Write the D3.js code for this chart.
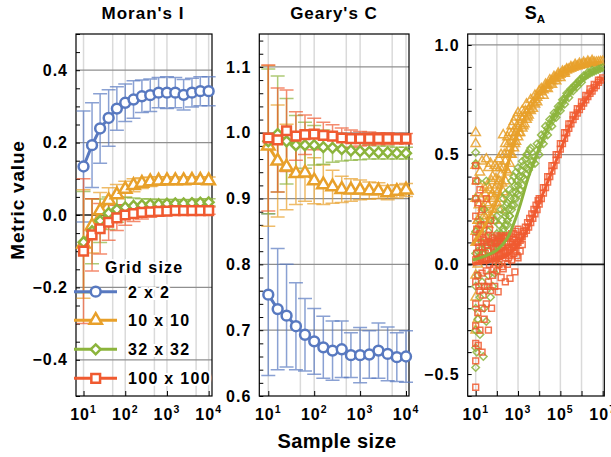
<!DOCTYPE html>
<meta charset="utf-8">
<script src="https://d3js.org/d3.v7.min.js"></script>
<style>
  body { margin: 0; background: #fff; }
  text { font-family: "Liberation Sans", Arial, sans-serif; font-weight: bold; }
</style>
<div id="chart"></div>
<script>
// ---- data -------------------------------------------------------------
var gridNames = ["2 x 2", "10 x 10", "32 x 32", "100 x 100"];
var colors = ["#5879c0", "#e8a02a", "#8cb43c", "#f05a30"];

// sample sizes used for Moran's I and Geary's C
var sampleSizes = [10, 16, 25, 40, 63, 100, 158, 251, 398, 631, 1000, 1585, 2512, 3981, 6310, 10000];

// Moran's I mean and error half-width, one array per grid size
var moran2 = [0.134, 0.193, 0.239, 0.268, 0.294, 0.31, 0.319, 0.328, 0.331, 0.338, 0.338, 0.338, 0.332, 0.338, 0.342, 0.342];
var moran10 = [-0.08, -0.03, 0.012, 0.04, 0.056, 0.071, 0.082, 0.088, 0.092, 0.094, 0.095, 0.095, 0.095, 0.096, 0.096, 0.095];
var moran32 = [-0.075, -0.045, -0.016, 0.005, 0.015, 0.021, 0.025, 0.027, 0.029, 0.03, 0.031, 0.032, 0.032, 0.033, 0.034, 0.035];
var moran100 = [-0.1, -0.055, -0.038, -0.02, -0.008, 0.0, 0.004, 0.007, 0.009, 0.01, 0.011, 0.012, 0.012, 0.012, 0.012, 0.012];
var moranErr2 = [0.153, 0.117, 0.096, 0.078, 0.06, 0.052, 0.052, 0.045, 0.045, 0.042, 0.044, 0.042, 0.042, 0.04, 0.04, 0.04];
var moranErr10 = [0.15, 0.075, 0.05, 0.035, 0.028, 0.022, 0.018, 0.015, 0.013, 0.012, 0.011, 0.01, 0.01, 0.01, 0.01, 0.01];
var moranErr32 = [0.14, 0.09, 0.06, 0.045, 0.035, 0.028, 0.022, 0.018, 0.015, 0.013, 0.012, 0.011, 0.01, 0.01, 0.01, 0.01];
var moranErr100 = [0.2, 0.1, 0.07, 0.05, 0.035, 0.028, 0.022, 0.018, 0.015, 0.013, 0.012, 0.011, 0.01, 0.01, 0.01, 0.01];

// Geary's C mean and error half-width
var geary2 = [0.754, 0.732, 0.722, 0.706, 0.693, 0.683, 0.674, 0.669, 0.671, 0.662, 0.662, 0.663, 0.669, 0.664, 0.659, 0.66];
var geary10 = [0.98, 0.957, 0.948, 0.938, 0.939, 0.927, 0.921, 0.918, 0.914, 0.913, 0.913, 0.912, 0.912, 0.909, 0.911, 0.913];
var geary32 = [0.987, 0.998, 0.987, 0.981, 0.981, 0.981, 0.978, 0.977, 0.975, 0.973, 0.972, 0.971, 0.97, 0.97, 0.969, 0.969];
var geary100 = [0.992, 0.989, 1.003, 0.995, 0.997, 0.998, 0.996, 0.995, 0.992, 0.991, 0.991, 0.991, 0.991, 0.991, 0.991, 0.991];
var gearyErr2 = [0.123, 0.092, 0.078, 0.066, 0.055, 0.05, 0.047, 0.045, 0.043, 0.034, 0.042, 0.036, 0.042, 0.041, 0.037, 0.039];
var gearyErr10 = [0.122, 0.085, 0.065, 0.047, 0.043, 0.035, 0.03, 0.025, 0.02, 0.017, 0.015, 0.013, 0.012, 0.011, 0.01, 0.01];
var gearyErr32 = [0.11, 0.088, 0.065, 0.045, 0.035, 0.03, 0.026, 0.022, 0.018, 0.015, 0.013, 0.011, 0.01, 0.01, 0.009, 0.009];
var gearyErr100 = [0.111, 0.079, 0.062, 0.037, 0.03, 0.024, 0.02, 0.017, 0.015, 0.013, 0.011, 0.01, 0.009, 0.009, 0.008, 0.008];

// S_A: log10 of sample size and the main run of points for each grid
var saLogN = [1.0, 1.1, 1.2, 1.3, 1.4, 1.5, 1.6, 1.7, 1.8, 1.9, 2.0, 2.1, 2.2, 2.3, 2.4, 2.5, 2.6, 2.7, 2.8, 2.9,
  3.0, 3.1, 3.2, 3.3, 3.4, 3.5, 3.6, 3.7, 3.8, 3.9, 4.0, 4.1, 4.2, 4.3, 4.4, 4.5, 4.6, 4.7, 4.8, 4.9,
  5.0, 5.1, 5.2, 5.3, 5.4, 5.5, 5.6, 5.7, 5.8, 5.9, 6.0, 6.1, 6.2, 6.3, 6.4, 6.5, 6.6, 6.7, 6.8, 6.9, 7.0];
var sa10 = [0.15, 0.2, 0.18, 0.24, 0.22, 0.28, 0.27, 0.31, 0.32, 0.34, 0.36, 0.38, 0.41, 0.44, 0.47, 0.5, 0.53, 0.56, 0.58, 0.6,
  0.62, 0.64, 0.66, 0.675, 0.69, 0.705, 0.72, 0.735, 0.75, 0.76, 0.77, 0.785, 0.795, 0.805, 0.815, 0.825, 0.835, 0.845, 0.85, 0.86,
  0.865, 0.872, 0.878, 0.884, 0.889, 0.893, 0.897, 0.9, 0.903, 0.906, 0.909, 0.911, 0.913, 0.915, 0.917, 0.918, 0.92, 0.921, 0.922, 0.923, 0.924];
var sa32 = [0.05, 0.06, 0.04, 0.07, 0.05, 0.08, 0.06, 0.09, 0.08, 0.1, 0.1, 0.12, 0.14, 0.16, 0.18, 0.2, 0.22, 0.25, 0.27, 0.3,
  0.32, 0.34, 0.36, 0.39, 0.41, 0.43, 0.45, 0.47, 0.49, 0.52, 0.54, 0.56, 0.58, 0.6, 0.62, 0.64, 0.656, 0.672, 0.688, 0.704,
  0.72, 0.737, 0.753, 0.77, 0.782, 0.794, 0.805, 0.815, 0.825, 0.835, 0.845, 0.852, 0.859, 0.865, 0.871, 0.876, 0.881, 0.885, 0.889, 0.893, 0.897];
var sa100 = [0.02, 0.02, 0.02, 0.02, 0.025, 0.025, 0.03, 0.03, 0.035, 0.04, 0.04, 0.045, 0.05, 0.055, 0.06, 0.065, 0.07, 0.075, 0.08, 0.09,
  0.1, 0.11, 0.125, 0.14, 0.155, 0.17, 0.19, 0.21, 0.23, 0.25, 0.275, 0.3, 0.325, 0.35, 0.375, 0.4, 0.425, 0.45, 0.475, 0.5,
  0.525, 0.55, 0.575, 0.6, 0.62, 0.64, 0.66, 0.675, 0.69, 0.705, 0.72, 0.735, 0.75, 0.765, 0.78, 0.79, 0.805, 0.815, 0.83, 0.84, 0.85];

// extra scattered S_A points [log10 n, value]
var sa10Cloud = [[1.0, 0.6], [1.0, 0.55], [1.0, 0.45], [1.0, 0.3], [1.0, 0.1], [1.0, -0.05], [1.0, -0.15], [1.0, -0.3], [1.1, -0.25],
  [1.05, 0.38], [1.1, 0.2], [1.1, 0.0], [1.2, 0.42], [1.2, 0.15], [1.3, 0.47], [1.3, 0.05], [1.4, 0.35], [1.4, 0.2],
  [1.5, 0.48], [1.5, 0.12], [1.6, 0.44], [1.6, 0.18], [1.7, 0.46], [1.7, 0.22], [1.8, 0.4], [1.8, 0.25], [1.9, 0.45], [1.9, 0.2],
  [2.0, 0.44], [2.0, 0.28], [2.1, 0.48], [2.1, 0.25], [2.2, 0.5], [2.2, 0.3], [2.3, 0.59], [2.3, 0.33], [2.4, 0.55], [2.4, 0.38],
  [2.5, 0.58], [2.5, 0.42], [2.6, 0.6], [2.6, 0.46], [2.7, 0.63], [2.7, 0.5], [2.8, 0.65], [2.8, 0.53], [2.9, 0.67], [2.9, 0.56],
  [3.0, 0.69], [3.0, 0.58], [3.2, 0.7], [3.2, 0.62], [3.4, 0.73], [3.4, 0.66], [3.6, 0.75], [3.6, 0.7], [3.8, 0.77], [3.8, 0.73],
  [3.1, 0.6], [3.3, 0.64], [3.5, 0.68], [3.7, 0.71], [3.9, 0.74], [4.0, 0.79], [4.2, 0.77], [4.4, 0.8], [4.6, 0.82],
  [4.8, 0.835], [5.0, 0.85], [5.2, 0.87], [4.1, 0.8], [4.3, 0.82], [4.5, 0.84], [4.7, 0.855], [4.9, 0.87], [5.1, 0.88],
  [5.3, 0.89], [5.5, 0.9], [5.7, 0.91], [5.9, 0.915], [6.1, 0.92], [6.3, 0.925], [6.5, 0.928],
  [1.15, 0.27], [1.25, 0.3], [1.35, 0.26], [1.45, 0.32], [1.55, 0.36], [1.65, 0.34], [1.75, 0.38], [1.85, 0.3],
  [1.95, 0.39], [2.05, 0.33], [2.15, 0.44], [2.25, 0.37], [2.35, 0.5], [2.45, 0.43], [2.55, 0.55], [2.65, 0.5],
  [2.75, 0.6], [2.85, 0.55], [2.95, 0.63], [3.05, 0.6], [3.15, 0.67], [3.25, 0.63], [3.35, 0.7], [3.45, 0.67]];
var sa32Cloud = [[1.0, 0.51], [1.0, 0.46], [1.0, 0.3], [1.0, 0.15], [1.0, -0.1], [1.0, -0.2], [1.0, -0.3], [1.0, -0.38], [1.0, -0.47],
  [1.05, -0.4], [1.1, 0.38], [1.1, -0.05], [1.1, -0.25], [1.2, 0.2], [1.2, -0.15], [1.2, -0.32], [1.3, 0.1], [1.3, -0.08],
  [1.36, -0.42], [1.4, 0.25], [1.4, -0.2], [1.5, 0.38], [1.5, -0.12], [1.5, -0.26], [1.6, 0.15], [1.6, -0.05], [1.7, 0.2],
  [1.7, -0.15], [1.8, 0.12], [1.8, -0.1], [1.9, 0.2], [1.9, -0.04], [2.0, 0.14], [2.0, 0.22], [2.1, 0.18], [2.1, 0.0],
  [2.2, 0.25], [2.2, 0.12], [2.3, 0.3], [2.3, 0.15], [2.4, 0.22], [2.4, 0.32], [2.5, 0.28], [2.5, 0.18], [2.6, 0.34], [2.6, 0.22],
  [2.7, 0.38], [2.7, 0.27], [2.8, 0.4], [2.8, 0.3], [2.9, 0.42], [2.9, 0.33], [3.0, 0.44], [3.0, 0.36], [3.2, 0.47], [3.2, 0.4],
  [3.4, 0.5], [3.4, 0.44], [3.6, 0.53], [3.6, 0.47],
  [3.8, 0.46], [4.0, 0.5], [4.2, 0.55], [4.4, 0.59], [4.6, 0.63], [4.8, 0.67], [5.0, 0.7], [5.2, 0.73], [5.4, 0.76],
  [5.6, 0.79], [5.8, 0.81], [6.0, 0.83], [3.9, 0.55], [4.1, 0.59], [4.3, 0.63], [4.5, 0.66], [4.7, 0.69], [4.9, 0.72],
  [5.1, 0.75], [5.3, 0.78], [5.5, 0.8], [5.7, 0.82], [5.9, 0.84], [6.1, 0.86], [6.3, 0.875], [6.5, 0.885],
  [2.05, 0.08], [2.15, 0.1], [2.25, 0.2], [2.35, 0.24], [2.45, 0.27], [2.55, 0.25], [2.65, 0.3], [2.75, 0.33],
  [2.85, 0.36], [2.95, 0.38], [3.05, 0.4], [3.15, 0.43], [3.25, 0.45], [3.35, 0.48], [3.45, 0.5], [3.55, 0.52]];
var sa100Cloud = [[1.0, 0.45], [1.0, 0.38], [1.0, 0.3], [1.0, 0.22], [1.0, 0.12], [1.0, -0.08], [1.0, -0.18], [1.0, -0.28],
  [1.0, -0.36], [1.0, -0.44], [1.0, -0.56], [1.1, 0.28], [1.1, 0.1], [1.1, -0.05], [1.1, -0.22], [1.12, -0.37], [1.2, 0.34],
  [1.2, 0.14], [1.2, -0.12], [1.2, -0.3], [1.3, 0.25], [1.3, 0.08], [1.3, -0.04], [1.3, -0.2], [1.3, -0.4], [1.4, 0.18],
  [1.4, 0.11], [1.4, -0.1], [1.4, -0.25], [1.5, 0.3], [1.5, 0.1], [1.5, -0.03], [1.5, -0.18], [1.6, 0.13], [1.6, 0.06],
  [1.6, -0.08], [1.6, -0.3], [1.7, 0.2], [1.7, 0.1], [1.7, -0.12], [1.75, -0.2], [1.8, 0.12], [1.8, 0.04], [1.8, -0.05],
  [1.9, 0.11], [1.9, -0.1], [2.0, 0.13], [2.0, 0.07], [2.0, -0.03], [2.06, -0.125], [2.1, 0.12], [2.1, 0.0], [2.2, 0.13],
  [2.2, 0.08], [2.2, -0.06], [2.3, 0.12], [2.3, -0.02], [2.4, 0.13], [2.4, 0.03], [2.4, -0.08], [2.5, 0.12], [2.5, 0.0],
  [2.6, 0.13], [2.62, -0.064], [2.6, 0.04], [2.7, 0.14], [2.7, 0.02], [2.8, 0.14], [2.8, 0.05], [2.85, -0.034], [2.9, 0.15],
  [2.9, 0.06], [3.0, 0.16], [3.0, 0.03], [3.1, 0.06], [3.2, 0.09],
  [1.05, 0.05], [1.15, 0.08], [1.25, 0.03], [1.35, 0.12], [1.45, 0.05], [1.55, 0.09], [1.65, 0.0], [1.75, 0.1], [1.85, 0.07],
  [1.95, 0.02], [2.05, 0.1], [2.15, 0.05], [2.25, 0.09], [2.35, 0.06], [2.45, 0.1], [2.55, 0.08], [2.65, 0.1], [2.75, 0.09],
  [2.85, 0.11], [2.95, 0.1], [3.05, 0.12], [3.15, 0.13], [3.25, 0.15], [3.35, 0.17], [3.45, 0.19], [3.55, 0.21], [3.65, 0.23],
  [3.75, 0.25], [3.85, 0.27], [3.95, 0.29], [4.0, 0.3], [4.2, 0.35], [4.4, 0.4], [4.6, 0.45], [4.8, 0.5], [5.0, 0.55],
  [5.2, 0.6], [5.4, 0.64], [5.6, 0.68], [5.8, 0.71], [6.0, 0.74], [6.2, 0.77], [6.4, 0.8], [6.6, 0.82], [6.8, 0.84],
  [1.05, 0.16], [1.15, -0.1], [1.25, 0.18], [1.35, -0.14], [1.45, 0.02], [1.55, -0.1], [1.65, 0.16], [1.85, -0.02],
  [1.95, 0.08], [2.15, 0.11], [2.25, -0.01], [2.35, 0.12], [2.55, 0.03], [2.75, 0.12], [2.95, 0.04]];

// fitted S_A curves
var fitLogN = [0.85, 1.5, 2.0, 2.5, 3.0, 3.5, 4.0, 4.5, 5.0, 5.5, 6.0, 6.5, 7.0];
var fit10 = [0.088, 0.19, 0.29, 0.45, 0.6, 0.7, 0.77, 0.825, 0.865, 0.893, 0.909, 0.918, 0.924];
var fit32 = [0.02, 0.04, 0.065, 0.12, 0.24, 0.4, 0.53, 0.64, 0.72, 0.79, 0.84, 0.875, 0.897];
var fit100 = [0.0, 0.01, 0.02, 0.04, 0.09, 0.17, 0.28, 0.4, 0.52, 0.64, 0.72, 0.79, 0.85];

// ---- layout -------------------------------------------------------------
var panelTop = 34, panelBottom = 396;

var svg = d3.select("#chart").append("svg")
    .attr("width", 611)
    .attr("height", 457);

var moranX = d3.scaleLog().domain([6.6, 12030]).range([76, 212]);
var moranY = d3.scaleLinear().domain([-0.5, 0.5]).range([panelBottom, panelTop]);
var gearyX = d3.scaleLog().domain([6.37, 11620]).range([259.3, 409]);
var gearyY = d3.scaleLinear().domain([0.6, 1.15]).range([panelBottom, panelTop]);
var saX = d3.scaleLog().domain([Math.pow(10, 0.622), Math.pow(10, 7.076)]).range([467.7, 604.3]);
var saY = d3.scaleLinear().domain([-0.6, 1.05]).range([panelBottom, panelTop]);

var symbolTypes = [d3.symbolCircle, d3.symbolTriangle, d3.symbolSquare, d3.symbolSquare];
var symbolRot = [0, 0, 45, 0];
var bigSizes = [76, 66, 48, 76];
var smallSizes = [16, 38, 28, 34];

function fmt(d) { return d3.format(".1f")(Math.round(d * 10) / 10 + 0); }

// grid, ticks, labels and border of one panel
function frame(x, y, o) {
  var g = svg.append("g");
  var x0 = x.range()[0], x1 = x.range()[1];

  g.selectAll(null).data(o.vgrid).join("line")
      .attr("x1", d => x(d)).attr("x2", d => x(d))
      .attr("y1", panelTop).attr("y2", panelBottom)
      .attr("stroke", "#dadada").attr("stroke-width", 1.5);

  g.selectAll(null).data(o.hgrid).join("line")
      .attr("x1", x0).attr("x2", x1)
      .attr("y1", d => y(d)).attr("y2", d => y(d))
      .attr("stroke", d => d === 0 ? "#1a1a1a" : "#8f8f8f")
      .attr("stroke-width", d => d === 0 ? 1.6 : 1.2);

  g.append("g")
      .attr("transform", `translate(${x0},0)`)
      .call(d3.axisLeft(y).tickValues(o.yMinor).tickSize(-4).tickPadding(8)
        .tickFormat(d => o.yMajor.some(m => Math.abs(m - d) < 1e-9) ? fmt(d) : ""))
      .attr("font-size", 16)
      .call(a => a.select(".domain").remove())
      .call(a => a.selectAll("text").attr("fill", "#000").attr("letter-spacing", 1))
      .call(a => a.selectAll("line").attr("stroke", "#000"));

  g.append("g")
      .attr("transform", `translate(0,${panelBottom})`)
      .call(d3.axisBottom(x).tickValues(o.xTicks).tickSize(-5).tickFormat(""))
      .call(a => a.select(".domain").remove())
      .call(a => a.selectAll("line").attr("stroke", "#000"));

  g.selectAll(null).data(o.xLabels).join("text")
      .attr("x", d => x(Math.pow(10, d)))
      .attr("y", 420)
      .attr("text-anchor", "middle")
      .attr("font-size", 16)
      .attr("letter-spacing", 1)
      .call(t => t.append("tspan").text("10"))
      .call(t => t.append("tspan").attr("dy", -7).attr("font-size", 10.5).text(d => d));

  g.append("rect")
      .attr("x", x0).attr("y", panelTop)
      .attr("width", x1 - x0).attr("height", panelBottom - panelTop)
      .attr("fill", "none").attr("stroke", "#000").attr("stroke-width", 1.2);
}

function marker(sel, i, size) {
  return sel.attr("d", d3.symbol(symbolTypes[i], size)());
}

// mean +/- error panels
function errorPanel(x, y, means, errs) {
  var g = svg.append("g");
  var series = means.map((m, i) => sampleSizes.map((n, k) => ({n: n, v: m[k], e: errs[i][k]})));

  series.forEach((pts, i) => {
    g.append("g")
        .attr("stroke", colors[i]).attr("stroke-width", 1.5)
        .attr("stroke-opacity", 0.7).attr("fill", "none")
      .selectAll(null).data(pts).join("path")
        .attr("d", d => {
          var xx = x(d.n), lo = y(d.v - d.e), hi = y(d.v + d.e);
          return `M${xx},${lo}V${hi}M${xx - 7},${lo}h14M${xx - 7},${hi}h14`;
        });
  });

  series.forEach((pts, i) => {
    g.append("path").datum(pts)
        .attr("d", d3.line().x(d => x(d.n)).y(d => y(d.v)))
        .attr("fill", "none").attr("stroke", colors[i]).attr("stroke-width", 3);
    g.append("g").selectAll(null).data(pts).join("path")
        .call(s => marker(s, i, bigSizes[i]))
        .attr("transform", d => `translate(${x(d.n)},${y(d.v)}) rotate(${symbolRot[i]})`)
        .attr("fill", "#fff").attr("stroke", colors[i]).attr("stroke-width", 2.5);
  });
}

// ---- Moran's I ------------------------------------------------------------
frame(moranX, moranY, {
  vgrid: [10, 50, 100, 500, 1000, 5000, 10000],
  hgrid: [-0.4, -0.2, 0, 0.2, 0.4],
  yMinor: d3.range(-10, 11).map(i => i * 0.05),
  yMajor: [-0.4, -0.2, 0, 0.2, 0.4],
  xTicks: [10, 100, 1000, 10000],
  xLabels: [1, 2, 3, 4]
});
errorPanel(moranX, moranY, [moran2, moran10, moran32, moran100],
  [moranErr2, moranErr10, moranErr32, moranErr100]);

// ---- Geary's C ------------------------------------------------------------
frame(gearyX, gearyY, {
  vgrid: [10, 50, 100, 500, 1000, 5000, 10000],
  hgrid: [0.7, 0.8, 0.9, 1.0, 1.1],
  yMinor: d3.range(30, 58).map(i => i * 0.02),
  yMajor: [0.6, 0.7, 0.8, 0.9, 1.0, 1.1],
  xTicks: [10, 100, 1000, 10000],
  xLabels: [1, 2, 3, 4]
});
errorPanel(gearyX, gearyY, [geary2, geary10, geary32, geary100],
  [gearyErr2, gearyErr10, gearyErr32, gearyErr100]);

// ---- S_A --------------------------------------------------------------------
frame(saX, saY, {
  vgrid: [1, 2, 3, 4, 5, 6, 7].map(e => Math.pow(10, e)),
  hgrid: [0, 0.5, 1.0],
  yMinor: d3.range(-6, 11).map(i => i * 0.1),
  yMajor: [-0.5, 0, 0.5, 1.0],
  xTicks: [1, 2, 3, 4, 5, 6, 7].map(e => Math.pow(10, e)),
  xLabels: [1, 3, 5, 7]
});

svg.append("clipPath").attr("id", "saClip")
  .append("rect").attr("x", 467.7).attr("y", panelTop)
    .attr("width", 604.3 - 467.7).attr("height", panelBottom - panelTop);

var saG = svg.append("g").attr("clip-path", "url(#saClip)");
var saRuns = [null, sa10, sa32, sa100];
var saClouds = [null, sa10Cloud, sa32Cloud, sa100Cloud];
var saFits = [null, fit10, fit32, fit100];

[1, 2, 3].forEach(i => {
  var pts = saLogN.map((e, k) => ({e: e, v: saRuns[i][k]}))
    .concat(saClouds[i].map(p => ({e: p[0], v: p[1]})));
  saG.append("g").selectAll(null).data(pts).join("path")
      .call(s => marker(s, i, smallSizes[i]))
      .attr("transform", d => `translate(${saX(Math.pow(10, d.e))},${saY(d.v)}) rotate(${symbolRot[i]})`)
      .attr("fill", "none").attr("stroke", colors[i])
      .attr("stroke-width", 1.5).attr("stroke-opacity", 0.85);
});

[3, 2, 1].forEach(i => {
  var pts = fitLogN.map((e, k) => ({e: e, v: saFits[i][k]}));
  saG.append("path").datum(pts)
      .attr("d", d3.line().curve(d3.curveMonotoneX)
        .x(d => saX(Math.pow(10, d.e))).y(d => saY(d.v)))
      .attr("fill", "none").attr("stroke", colors[i]).attr("stroke-width", 3);
});

// ---- titles and axis labels -------------------------------------------------
svg.append("text").attr("x", 143).attr("y", 19).attr("text-anchor", "middle")
    .attr("font-size", 17).attr("letter-spacing", 1).text("Moran's I");
svg.append("text").attr("x", 334).attr("y", 19).attr("text-anchor", "middle")
    .attr("font-size", 17).attr("letter-spacing", 1).text("Geary's C");
svg.append("text").attr("x", 535).attr("y", 19).attr("text-anchor", "middle")
    .attr("font-size", 18)
    .call(t => t.append("tspan").text("S"))
    .call(t => t.append("tspan").attr("dy", 4).attr("font-size", 11.5).text("A"));

svg.append("text")
    .attr("transform", "translate(24,200) rotate(-90)")
    .attr("text-anchor", "middle").attr("font-size", 19).attr("letter-spacing", 0.8)
    .text("Metric value");
svg.append("text").attr("x", 337).attr("y", 448).attr("text-anchor", "middle")
    .attr("font-size", 20).attr("letter-spacing", 0.4).text("Sample size");

// ---- legend -------------------------------------------------------------
var legend = svg.append("g");
legend.append("text").attr("x", 105).attr("y", 273)
    .attr("font-size", 16).attr("letter-spacing", 1.2)
    .attr("stroke", "#fff").attr("stroke-width", 4).attr("paint-order", "stroke")
    .text("Grid size");
var legendY = [291.7, 320.3, 349.3, 378.3];
gridNames.forEach((name, i) => {
  var ly = legendY[i];
  legend.append("line").attr("x1", 74).attr("x2", 117).attr("y1", ly).attr("y2", ly)
      .attr("stroke", colors[i]).attr("stroke-width", 3);
  legend.append("path").call(s => marker(s, i, bigSizes[i]))
      .attr("transform", `translate(95.7,${ly}) rotate(${symbolRot[i]})`)
      .attr("fill", "#fff").attr("stroke", colors[i]).attr("stroke-width", 2.5);
  legend.append("text").attr("x", 128).attr("y", ly + 6)
      .attr("font-size", 16).attr("letter-spacing", 1.3)
      .attr("stroke", "#fff").attr("stroke-width", 4).attr("paint-order", "stroke")
      .text(name);
});
</script>
